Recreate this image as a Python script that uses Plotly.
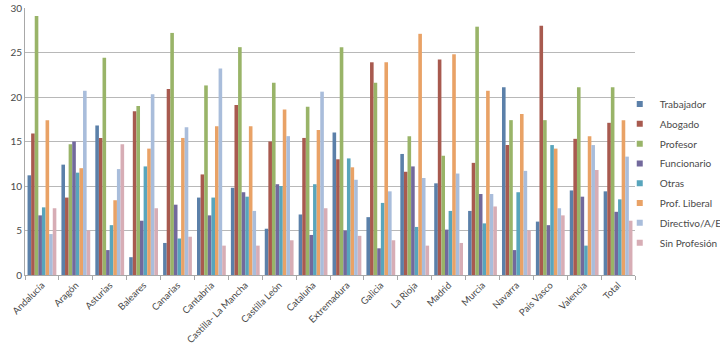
import plotly.graph_objects as go

regiones = ["Andalucía", "Aragón", "Asturias", "Baleares", "Canarias", "Cantabria",
            "Castilla- La Mancha", "Castilla León", "Cataluña", "Extremadura", "Galicia",
            "La Rioja", "Madrid", "Murcia", "Navarra", "País Vasco", "Valencia", "Total"]

trabajador   = [11.2, 12.4, 16.8, 2.0, 3.6, 8.7, 9.8, 5.2, 6.8, 16.0, 6.5, 13.6, 10.3, 7.2, 21.1, 6.0, 9.5, 9.4]
abogado      = [15.9, 8.7, 15.4, 18.4, 20.9, 11.3, 19.1, 15.0, 15.4, 13.0, 23.9, 11.6, 24.2, 12.6, 14.6, 28.0, 15.3, 17.1]
profesor     = [29.1, 14.7, 24.4, 19.0, 27.2, 21.3, 25.6, 21.6, 18.9, 25.6, 21.6, 15.6, 13.4, 27.9, 17.4, 17.4, 21.1, 21.1]
funcionario  = [6.7, 15.0, 2.8, 6.1, 7.9, 6.7, 9.3, 10.2, 4.5, 5.0, 3.0, 12.2, 5.1, 9.1, 2.8, 5.6, 8.8, 7.1]
otras        = [7.6, 11.5, 5.6, 12.2, 4.1, 8.7, 8.8, 10.0, 10.2, 13.1, 8.1, 5.4, 7.2, 5.8, 9.3, 14.6, 3.3, 8.5]
prof_liberal = [17.4, 12.0, 8.4, 14.2, 15.4, 16.7, 16.7, 18.6, 16.3, 12.1, 23.9, 27.1, 24.8, 20.7, 18.1, 14.2, 15.6, 17.4]
directivo    = [4.6, 20.7, 11.9, 20.3, 16.6, 23.2, 7.2, 15.6, 20.6, 10.7, 9.4, 10.9, 11.4, 9.1, 11.7, 7.5, 14.6, 13.3]
sin_profesion = [7.5, 5.0, 14.7, 7.5, 4.3, 3.3, 3.3, 3.9, 7.5, 4.4, 3.9, 3.3, 3.6, 7.7, 5.0, 6.7, 11.8, 6.1]

series = [
    ("Trabajador", trabajador, "#5B80A9"),
    ("Abogado", abogado, "#A85A4F"),
    ("Profesor", profesor, "#99B468"),
    ("Funcionario", funcionario, "#72699C"),
    ("Otras", otras, "#58A5BC"),
    ("Prof. Liberal", prof_liberal, "#E9A266"),
    ("Directivo/A/E", directivo, "#A9BDDB"),
    ("Sin Profesión", sin_profesion, "#D7ADB5"),
]

fig = go.Figure()
for nombre, valores, color in series:
    fig.add_trace(go.Bar(name=nombre, x=regiones, y=valores, showlegend=False,
                         legendgroup=nombre,
                         marker=dict(color=color, line=dict(width=0))))

# legend entries with small square swatches
for nombre, valores, color in series:
    fig.add_trace(go.Scatter(name=nombre, x=[None], y=[None], mode="markers",
                             legendgroup=nombre,
                             marker=dict(symbol="square", size=6, color=color)))

font_family = "Lato, 'Open Sans', sans-serif"
fig.update_layout(
    width=720, height=347,
    barmode="group", bargap=0.15, bargroupgap=0,
    plot_bgcolor="white", paper_bgcolor="white",
    margin=dict(l=25, r=85, t=8, b=72, autoexpand=False),
    font=dict(family=font_family, size=10, color="#4a4a4a"),
    legend=dict(x=0.975, y=0.38, yanchor="middle", xanchor="left",
                font=dict(size=10, color="#4a4a4a"), itemwidth=30,
                tracegroupgap=0.8,
                bgcolor="rgba(0,0,0,0)"),
    xaxis=dict(type="category", tickangle=-45, tickfont=dict(size=9.5),
               showline=True, linecolor="#a8a8a8", linewidth=1,
               ticks="outside", tickson="boundaries", ticklen=4, tickcolor="#a8a8a8"),
    yaxis=dict(range=[0, 30], dtick=5, showgrid=True, gridcolor="#b8b8b8", gridwidth=1,
               showline=True, linecolor="#a8a8a8", zeroline=False,
               tickfont=dict(size=10), ticks=""),
)

fig.write_html("out.html")
